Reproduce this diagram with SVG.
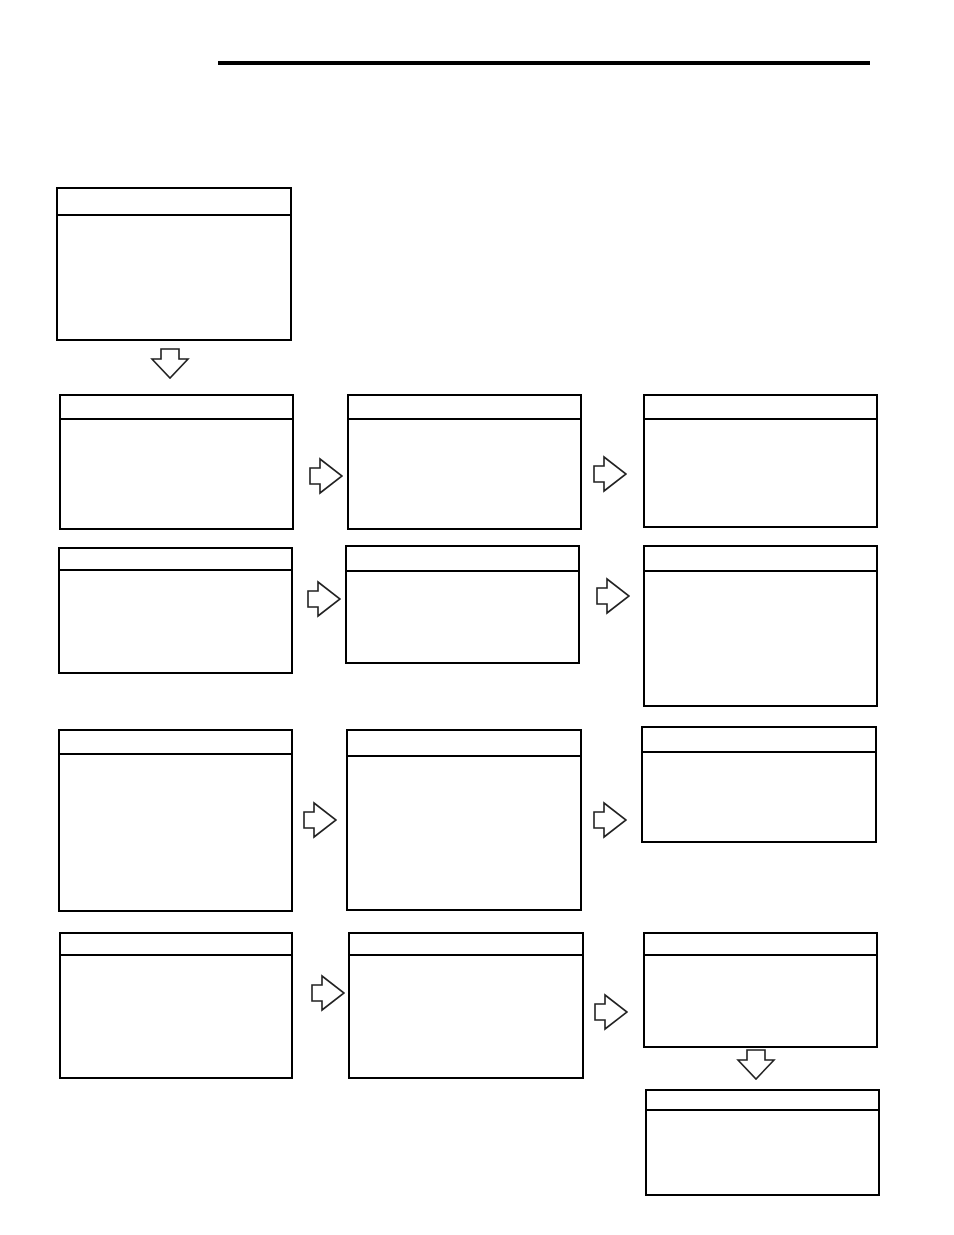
<svg xmlns="http://www.w3.org/2000/svg" xmlns:xlink="http://www.w3.org/1999/xlink" width="954" height="1235" viewBox="0 0 954 1235">
<style>
.box{fill:#fff;stroke:#000;stroke-width:2}
.hdr{stroke:#000;stroke-width:1.8}
.arr{fill:#fff;stroke:#222;stroke-width:1.6;stroke-linejoin:miter}
</style>
<defs>
<path id="ra" class="arr" d="M0,-8 H10 V-17 L32,0 L10,17 V8 H0 Z"/>
<path id="da" class="arr" d="M-9,0 H9 V10 H18 L0,29 L-18,10 H-9 Z"/>
</defs>
<rect width="954" height="1235" fill="#fff"/>
<line x1="218" y1="63" x2="870" y2="63" stroke="#000" stroke-width="4"/>

<g id="n0"><rect class="box" x="57" y="188" width="234" height="152"/><line class="hdr" x1="57" y1="215" x2="291" y2="215"/></g>

<g id="n1"><rect class="box" x="60" y="395" width="233" height="134"/><line class="hdr" x1="60" y1="419" x2="293" y2="419"/></g>
<g id="n2"><rect class="box" x="348" y="395" width="233" height="134"/><line class="hdr" x1="348" y1="419" x2="581" y2="419"/></g>
<g id="n3"><rect class="box" x="644" y="395" width="233" height="132"/><line class="hdr" x1="644" y1="419" x2="877" y2="419"/></g>

<g id="n4"><rect class="box" x="59" y="548" width="233" height="125"/><line class="hdr" x1="59" y1="570" x2="292" y2="570"/></g>
<g id="n5"><rect class="box" x="346" y="546" width="233" height="117"/><line class="hdr" x1="346" y1="571" x2="578" y2="571"/></g>
<g id="n6"><rect class="box" x="644" y="546" width="233" height="160"/><line class="hdr" x1="644" y1="571" x2="877" y2="571"/></g>

<g id="n7"><rect class="box" x="59" y="730" width="233" height="181"/><line class="hdr" x1="59" y1="754" x2="292" y2="754"/></g>
<g id="n8"><rect class="box" x="347" y="730" width="234" height="180"/><line class="hdr" x1="348" y1="756" x2="581" y2="756"/></g>
<g id="n9"><rect class="box" x="642" y="727" width="234" height="115"/><line class="hdr" x1="642" y1="752" x2="876" y2="752"/></g>

<g id="n10"><rect class="box" x="60" y="933" width="232" height="145"/><line class="hdr" x1="60" y1="955" x2="292" y2="955"/></g>
<g id="n11"><rect class="box" x="349" y="933" width="234" height="145"/><line class="hdr" x1="349" y1="955" x2="583" y2="955"/></g>
<g id="n12"><rect class="box" x="644" y="933" width="233" height="114"/><line class="hdr" x1="644" y1="955" x2="877" y2="955"/></g>
<g id="n13"><rect class="box" x="646" y="1090" width="233" height="105"/><line class="hdr" x1="646" y1="1110" x2="879" y2="1110"/></g>

<g id="connectors">
<use xlink:href="#da" x="170" y="349"/>
<use xlink:href="#ra" x="310" y="476"/>
<use xlink:href="#ra" x="594" y="474"/>
<use xlink:href="#ra" x="308" y="599"/>
<use xlink:href="#ra" x="597" y="596"/>
<use xlink:href="#ra" x="304" y="820"/>
<use xlink:href="#ra" x="594" y="820"/>
<use xlink:href="#ra" x="312" y="993"/>
<use xlink:href="#ra" x="595" y="1012"/>
<use xlink:href="#da" x="756" y="1050"/>
</g>
</svg>
